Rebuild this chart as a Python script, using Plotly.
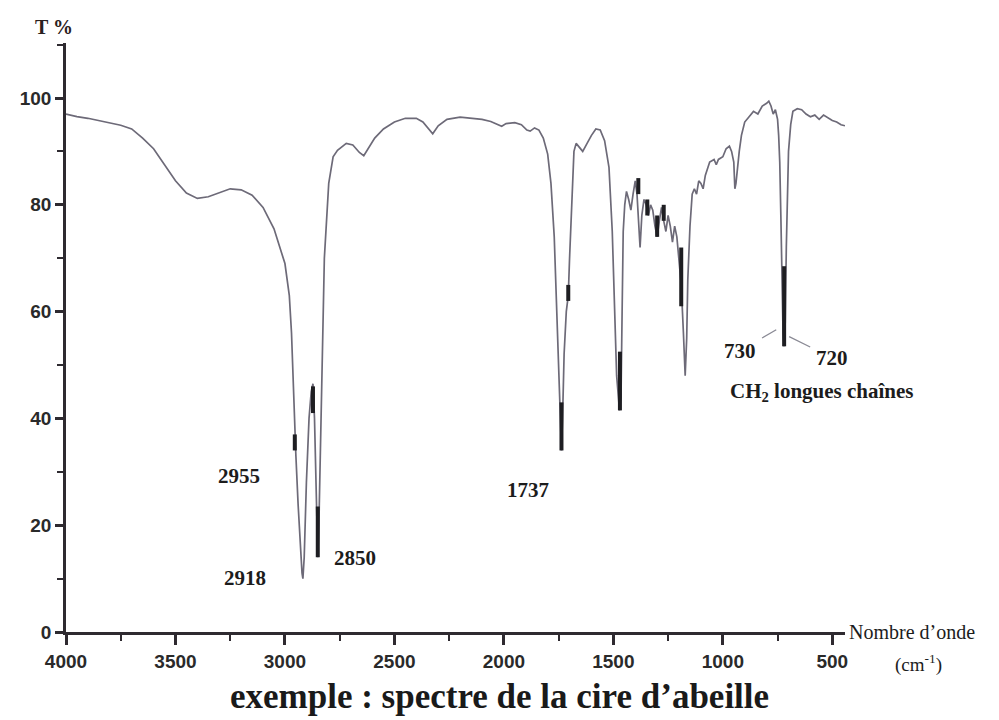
import plotly.graph_objects as go

# ---- data (beeswax) ----
wavenumber = [4000, 3950, 3900, 3850, 3800, 3750, 3700, 3650, 3600, 3550, 3500, 3450, 3400, 3350,
              3300, 3250, 3200, 3150, 3100, 3050, 3000, 2980, 2970, 2960, 2955, 2950, 2940, 2930,
              2922, 2918, 2912, 2902, 2890, 2880, 2872, 2865, 2858, 2850, 2845, 2835, 2820, 2800,
              2780, 2760, 2720, 2690, 2660, 2640, 2620, 2590, 2550, 2500, 2450, 2400, 2370, 2340,
              2325, 2300, 2260, 2200, 2150, 2100, 2060, 2030, 2010, 1990, 1950, 1920, 1895, 1880,
              1860, 1840, 1820, 1800, 1785, 1770, 1760, 1750, 1742, 1737, 1732, 1725, 1715, 1706,
              1700, 1690, 1680, 1670, 1655, 1640, 1620, 1600, 1580, 1560, 1540, 1520, 1505, 1495,
              1485, 1472, 1465, 1460, 1455, 1448, 1440, 1430, 1420, 1410, 1400, 1392, 1385, 1378,
              1370, 1360, 1350, 1340, 1330, 1320, 1310, 1300, 1290, 1280, 1270, 1260, 1250, 1240,
              1230, 1220, 1210, 1200, 1190, 1180, 1172, 1165, 1160, 1150, 1140, 1130, 1120, 1110,
              1100, 1090, 1080, 1060, 1040, 1030, 1020, 1000, 985, 970, 960, 950, 945, 940, 932,
              925, 915, 900, 880, 860, 840, 820, 800, 790, 780, 770, 760, 750, 745, 740, 735, 730,
              725, 720, 715, 710, 705, 700, 690, 680, 660, 640, 620, 600, 580, 560, 540, 520, 500,
              480, 460, 442]
transmittance = [97.0, 96.5, 96.2, 95.8, 95.3, 94.9, 94.2, 92.5, 90.5, 87.5, 84.5, 82.2, 81.2, 81.5,
                 82.3, 83.0, 82.8, 81.8, 79.5, 75.5, 69.0, 63.0, 56.0, 44.0, 37.0, 33.0, 24.0, 16.0,
                 11.0, 10.0, 14.0, 28.0, 40.0, 45.0, 46.5, 40.0, 26.0, 14.0, 20.0, 42.0, 70.0, 84.0,
                 89.0, 90.2, 91.5, 91.2, 89.8, 89.2, 90.5, 92.5, 94.2, 95.5, 96.2, 96.2, 95.5, 94.0,
                 93.3, 94.8, 96.0, 96.4, 96.2, 96.0, 95.6, 95.0, 94.7, 95.2, 95.4, 95.0, 94.0, 93.8,
                 94.4, 94.0, 92.5, 89.5, 84.0, 74.0, 62.0, 47.0, 37.0, 34.0, 40.0, 52.0, 60.0, 63.0,
                 70.0, 82.0, 90.0, 91.5, 90.8, 90.0, 91.5, 93.0, 94.2, 94.0, 92.0, 87.0, 75.0, 60.0,
                 48.0, 41.5, 44.0, 60.0, 75.0, 80.0, 82.5, 81.0, 79.0, 82.0, 84.5, 82.0, 76.0, 72.0,
                 78.0, 81.0, 80.0, 78.0, 80.0, 79.0, 76.0, 74.0, 77.0, 79.5, 77.0, 75.0, 78.0, 76.0,
                 73.0, 76.0, 74.0, 70.0, 65.0, 56.0, 48.0, 55.0, 66.0, 76.0, 82.0, 83.0, 82.0, 84.5,
                 84.0, 83.0, 85.5, 88.0, 88.5, 87.5, 88.5, 89.0, 90.5, 91.0, 90.0, 88.0, 83.0, 84.0,
                 88.0, 90.0, 93.0, 95.5, 96.5, 97.5, 97.0, 98.5, 99.0, 99.4, 98.5, 97.0, 97.8, 96.0,
                 93.0, 88.0, 78.0, 64.0, 56.0, 53.5, 58.0, 72.0, 84.0, 90.0, 95.0, 97.5, 98.0, 97.8,
                 97.0, 96.5, 96.8, 96.0, 96.8, 96.3, 95.8, 95.5, 95.0, 94.8]

# dense (dark) portions of the recorded trace: wavenumber, upper and lower T %
band_wn = [2955, 2872, 2850, 1737, 1706, 1470, 1386, 1345, 1300, 1270, 1190, 720]
band_high = [37, 46, 23.5, 43, 65, 52.5, 85, 81, 78, 80, 72, 68.5]
band_low = [34, 41, 14, 34, 62, 41.5, 82, 78, 74, 77, 61, 53.5]

# axis ticks
x_ticks = [4000, 3500, 3000, 2500, 2000, 1500, 1000, 500]
y_ticks = [0, 20, 40, 60, 80, 100]

# peak labels (text, wavenumber, T%)
peak_text = ["2955", "2918", "2850", "1737", "CH<sub>2</sub> longues chaînes"]
peak_x = [3208, 3181, 2680, 1889, 547]
peak_y = [29.2, 10.1, 13.8, 26.5, 44.9]

fig = go.Figure()
fig.add_trace(go.Scatter(x=wavenumber, y=transmittance, mode="lines",
                         line=dict(color="#6d6a78", width=1.7), hoverinfo="skip",
                         showlegend=False))
bx, by = [], []
for w, h, l in zip(band_wn, band_high, band_low):
    bx += [w, w, None]
    by += [h, l, None]
fig.add_trace(go.Scatter(x=bx, y=by, mode="lines", line=dict(color="#1e1e22", width=4),
                         hoverinfo="skip", showlegend=False))

axis_col = "#2e2a30"
tickfont = dict(family="Liberation Sans", size=19, color="#2a2a2a", weight="bold")
fig.update_xaxes(range=[4000, 442], tickvals=x_ticks, ticks="outside", ticklen=10, tickwidth=2.5,
                 tickcolor=axis_col, showline=True, linecolor=axis_col, linewidth=2.5,
                 showgrid=False, zeroline=False, tickfont=tickfont, automargin=False,
                 minor=dict(ticks="outside", ticklen=6, tickwidth=2, tickcolor=axis_col, dtick=250,
                            tick0=0, showgrid=False))
fig.update_yaxes(range=[0, 110.3], tickvals=y_ticks, ticks="outside", ticklen=8, tickwidth=2.5,
                 tickcolor=axis_col, showline=True, linecolor=axis_col, linewidth=2.5,
                 showgrid=False, zeroline=False, tickfont=tickfont, automargin=False,
                 minor=dict(ticks="outside", ticklen=6, tickwidth=2, tickcolor=axis_col, dtick=10,
                            tick0=0, showgrid=False))

serif = "Liberation Serif"
lab_font = dict(family=serif, size=21, color="#1c1c1c", weight="bold")
ann = []
for t, x, y in zip(peak_text, peak_x, peak_y):
    ann.append(dict(text=t, x=x, y=y, xref="x", yref="y", showarrow=False, font=lab_font))
# 730 / 720 with short connector lines
ann.append(dict(text="730", x=756, y=56.6, xref="x", yref="y", ax=-36, ay=21, showarrow=True,
                arrowhead=0, arrowwidth=1.3, arrowcolor="#8a8a95", startstandoff=5,
                font=lab_font))
ann.append(dict(text="720", x=697, y=55.3, xref="x", yref="y", ax=43, ay=21, showarrow=True,
                arrowhead=0, arrowwidth=1.3, arrowcolor="#8a8a95", startstandoff=5,
                font=lab_font))
ann.append(dict(text="T %", x=-0.015, y=1.027, xref="paper", yref="paper", showarrow=False,
                xanchor="center", yanchor="middle",
                font=dict(family=serif, size=20, color="#2a2020", weight="bold")))
ann.append(dict(text="Nombre d’onde", x=1.002, y=0, xref="paper", yref="paper", xanchor="left",
                yanchor="middle", showarrow=False,
                font=dict(family=serif, size=20, color="#1c1c1c")))
ann.append(dict(text="(cm<sup>-1</sup>)", x=1.094, y=-0.054, xref="paper", yref="paper",
                xanchor="center", yanchor="middle",
                showarrow=False, font=dict(family=serif, size=19, color="#1c1c1c")))
ann.append(dict(text="exemple : spectre de la cire d’abeille", x=0.557, y=-0.110,
                xref="paper", yref="paper", showarrow=False, xanchor="center", yanchor="middle",
                font=dict(family=serif, size=35, color="#1a1a1a", weight="bold")))

# page body adds an 8 px offset; plot area targets page px x 66..845, y 43..632
fig.update_layout(width=991, height=712, margin=dict(l=58, r=154, t=35, b=88),
                  paper_bgcolor="white", plot_bgcolor="white", annotations=ann,
                  showlegend=False)
fig.write_html("out.html")
